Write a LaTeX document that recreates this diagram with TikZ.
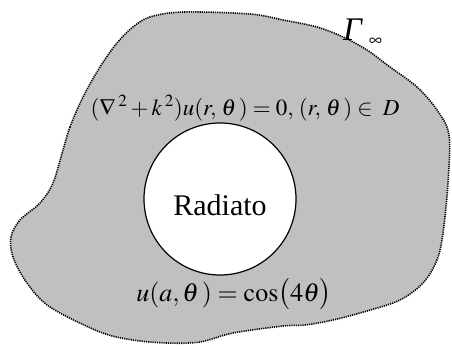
\documentclass[tikz,border=0pt]{standalone}
\usepackage{mathptmx}
\usepackage{fontspec}
\setmainfont{Liberation Serif}
\begin{document}
\begin{tikzpicture}[x=1pt,y=-1pt,
  region/.style={fill=regiongray,draw=black,line width=1.6pt,dash pattern=on 1.2pt off 1pt},
  body/.style={fill=white,draw=black,line width=1.2pt},
  lbl/.style={inner sep=0pt,anchor=base}]
\definecolor{regiongray}{RGB}{192,192,192}
\useasboundingbox (0,0) rectangle (452,348);
\draw[region] plot[smooth cycle,tension=0.55] coordinates {
 (63,150) (70,127) (83,97) (100,67) (117,43) (133,27) (150,17) (183,12)
 (250,14) (283,20) (317,27) (343,37) (367,50) (390,67) (417,87) (437,110)
 (449,135) (448,183) (443,233) (437,260) (423,283) (400,300) (367,311)
 (333,320) (305,325) (283,326) (233,333) (200,342) (167,343) (133,340)
 (100,332) (50,307) (27,283) (13,257) (11,237) (20,220) (40,203) (53,183)};
\node[body,circle,minimum size=152pt,inner sep=0pt] (rad) at (220,199) {};
\node[lbl,font=\fontsize{30}{36}\selectfont] (radtxt) at (220,215) {Radiato};
\node[lbl,font=\fontsize{23}{27}\selectfont] (helm) at (245,115)
  {$(\nabla\,^{2}+k\,^{2})u(r,\,\theta\,)=0,\,(r,\,\theta\,)\in\;D$};
\node[lbl,font=\fontsize{26}{30}\selectfont] (bc) at (234,301)
  {$u(a,\theta\,)=\cos\bigl(4\theta\bigr)$};
\node[lbl,anchor=base west,font=\fontsize{33}{36}\selectfont] (gam) at (343,40) {\textit{Γ}};
\node[lbl,anchor=base west,font=\fontsize{18}{20}\selectfont] (inf) at (369,45) {$\infty$};
\end{tikzpicture}
\end{document}
